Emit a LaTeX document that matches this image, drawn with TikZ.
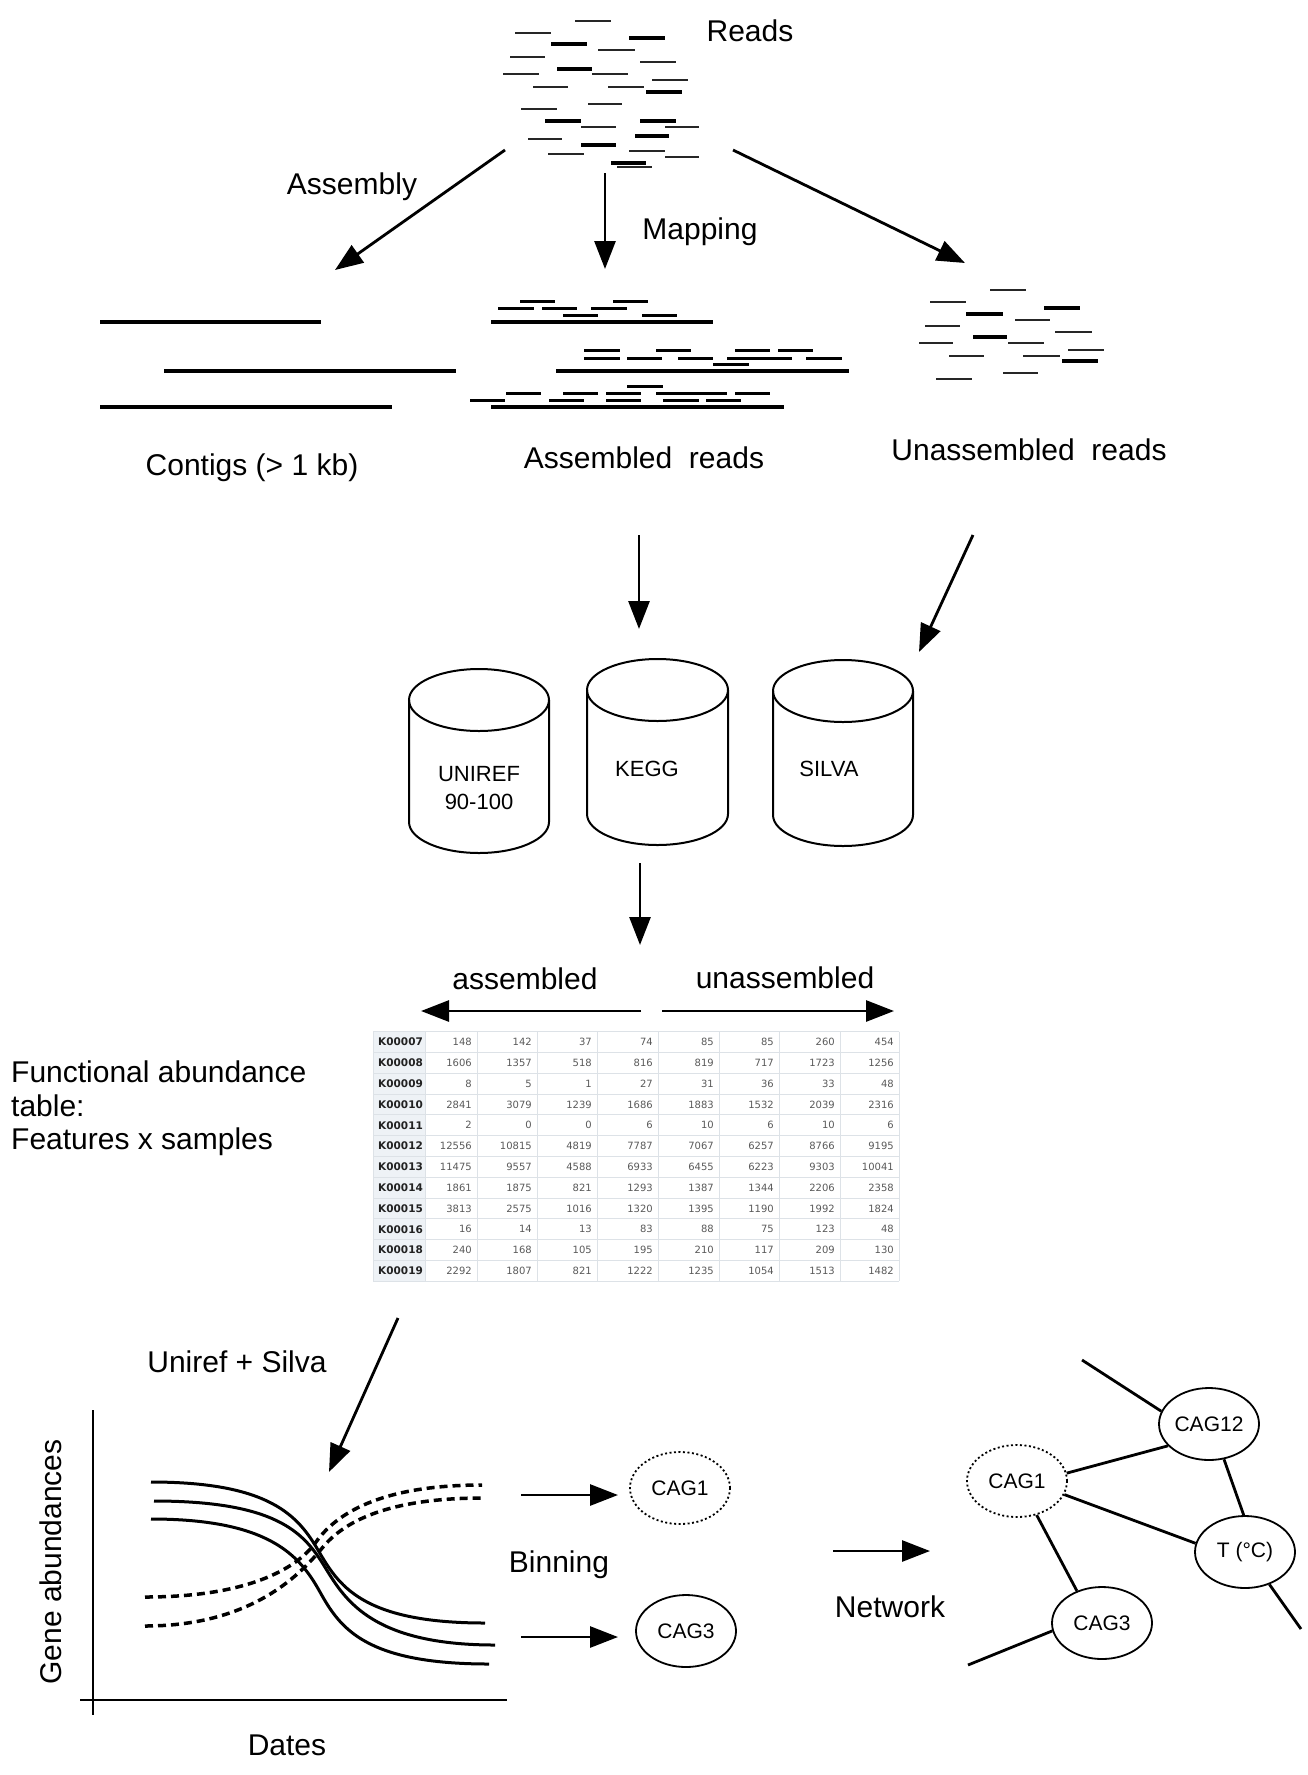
\documentclass[tikz,border=0pt]{standalone}
\usepackage{fontspec}
\setmainfont{Liberation Sans}
\newfontfamily\tabfont{DejaVu Sans}
\usetikzlibrary{arrows.meta,shapes.geometric}
\definecolor{lblbg}{HTML}{EEF2F6}
\definecolor{gridc}{HTML}{DDE2E7}
\definecolor{numc}{HTML}{5A5A5A}
\definecolor{labc}{HTML}{222222}
\definecolor{rdc}{HTML}{262626}
\tikzset{
 lbl/.style={font=\fontsize{30}{34}\selectfont, inner sep=0pt, anchor=base},
 lblw/.style={font=\fontsize{30}{34}\selectfont, inner sep=0pt, anchor=base west},
 cyltext/.style={font=\fontsize{22}{26}\selectfont, inner sep=0pt, anchor=base},
 arr/.style={-{Triangle[length=28pt,width=21pt]}, line width=2.8pt},
 rd/.style={line width=2.6pt, draw=rdc},
 rdk/.style={line width=3.8pt, draw=black},
 rdu/.style={line width=2.2pt, draw=rdc},
 asr/.style={line width=3pt, draw=black},
 longl/.style={line width=3.3pt, draw=black},
 cylline/.style={line width=2pt},
 cag/.style={ellipse, draw, line width=1.8pt, minimum width=100pt, minimum height=72pt, inner sep=0pt, font=\fontsize{21}{24}\selectfont},
 cagd/.style={cag, dash pattern=on 2pt off 2.5pt},
 netline/.style={line width=2.8pt},
 sigline/.style={line width=3pt},
 dsigline/.style={line width=3.5pt, dash pattern=on 8pt off 5pt},
 gridline/.style={draw=gridc, line width=0.8pt},
 tnum/.style={font=\tabfont\fontsize{10}{12}\selectfont, text=numc, inner sep=0pt, anchor=east},
 tlab/.style={font=\tabfont\bfseries\fontsize{10.5}{12}\selectfont, text=labc, inner sep=0pt, anchor=west},
}
\newcommand\mycyl[5]{%
 \draw[cylline] (#1-#4,#2) -- (#1-#4,#3) arc[start angle=180,end angle=360,x radius=#4pt,y radius=#5pt] -- (#1+#4,#2);
 \draw[cylline] (#1,#2) ellipse[x radius=#4pt,y radius=#5pt];}
\begin{document}
\begin{tikzpicture}[x=1pt,y=-1pt]
\fill[white] (0,0) rectangle (1307,1775);
\useasboundingbox (0,0) rectangle (1307,1775);

% ---------- Reads cloud ----------
\foreach \a/\b/\y in {575/611/21,515/551/33,598/635/50,510/545/57,640/676/62,503/539/74,592/628/74,652/688/80,533/568/87,608/644/87,588/622/104,521/557/109,581/616/127,665/699/127,528/562/139,548/584/154,629/665/151,665/699/157,617/652/167}
 \draw[rd] (\a,\y) -- (\b,\y);
\foreach \a/\b/\y in {551/587/44,629/665/38,557/592/69,646/682/92,545/581/121,640/676/121,635/669/136,581/616/145,611/646/163}
 \draw[rdk] (\a,\y) -- (\b,\y);
\node[lbl] (reads) at (750,41) {Reads};

% ---------- top arrows ----------
\coordinate (asmS) at (505,150); \coordinate (asmE) at (335,270);
\coordinate (mapS) at (605,173); \coordinate (mapE) at (605,269);
\coordinate (unS) at (733,150);  \coordinate (unE) at (965,263);
\draw[arr] (asmS) -- (asmE);
\draw[arr] (mapS) -- (mapE);
\draw[arr] (unS) -- (unE);
\node[lbl] (assembly) at (352,194) {Assembly};
\node[lbl] (mapping) at (700,239) {Mapping};

% ---------- contigs ----------
\draw[longl] (100,322) -- (321,322);
\draw[longl] (164,371) -- (456,371);
\draw[longl] (100,407) -- (392,407);
\node[lbl] (contigs) at (252,475) {Contigs (> 1 kb)};

% ---------- assembled reads ----------
\foreach \a/\b/\y in {520/555/301,613/648/301,498/534/308,542/577/308,591/627/308,563/598/315,642/677/315,
 584/620/350,656/691/350,735/770/350,778/813/350,584/620/358,627/662/358,678/713/358,727/763/358,756/792/358,806/842/358,713/749/364,
 627/663/386,506/541/393,563/598/393,606/641/393,656/691/393,691/727/393,735/770/393,470/505/400,549/584/400,606/641/400,663/699/400,706/741/400}
 \draw[asr] (\a,\y) -- (\b,\y);
\draw[longl] (491,322) -- (713,322);
\draw[longl] (556,371) -- (849,371);
\draw[longl] (491,407) -- (784,407);
\node[lbl] (asmreads) at (644,468) {Assembled\ \ reads};

% ---------- unassembled reads ----------
\foreach \a/\b/\y in {990/1026/290,930/966/302,1015/1050/320,925/960/326,1055/1092/332,919/953/343,1008/1044/343,1068/1104/350,949/984/356,1023/1060/356,1003/1038/373,936/972/379}
 \draw[rdu] (\a,\y) -- (\b,\y);
\foreach \a/\b/\y in {966/1003/314,1044/1080/308,973/1007/337,1062/1098/361}
 \draw[rdk] (\a,\y) -- (\b,\y);
\node[lbl] (unasmreads) at (1029,460) {Unassembled\ \ reads};

% ---------- arrows to databases ----------
\coordinate (kgS) at (639,535); \coordinate (kgE) at (639,629);
\coordinate (svS) at (973,535); \coordinate (svE) at (919,652);
\draw[arr] (kgS) -- (kgE);
\draw[arr] (svS) -- (svE);

% ---------- databases ----------
\mycyl{479}{700}{822}{70}{31}
\mycyl{657.5}{690}{814}{70.5}{31}
\mycyl{843}{691}{815}{70}{31}
\node[cyltext] (uniref) at (479,781) {UNIREF};
\node[cyltext] (uniref2) at (479,809) {90-100};
\node[cyltext] (kegg) at (647,776) {KEGG};
\node[cyltext] (silva) at (829,776) {SILVA};

\coordinate (tbS) at (640,863); \coordinate (tbE) at (640,945);
\draw[arr] (tbS) -- (tbE);

% ---------- table ----------
\coordinate (asL0) at (641,1011); \coordinate (asL1) at (421,1011);
\coordinate (unR0) at (662,1011); \coordinate (unR1) at (894,1011);
\draw[arr] (asL0) -- (asL1);
\draw[arr] (unR0) -- (unR1);
\node[lbl] (assembled) at (525,989) {assembled};
\node[lbl] (unassembled) at (785,988) {unassembled};

\fill[lblbg] (373,1031.6) rectangle (425,1281.2);
\foreach \yy in {0,...,12} \draw[gridline] (373,{1031.6+20.8*\yy}) -- (899,{1031.6+20.8*\yy});
\foreach \xx in {373,425,477,537,597,658,719,779,840,899} \draw[gridline] (\xx,1031.6) -- (\xx,1281.2);
\foreach \r/\k/\va/\vb/\vc/\vd/\ve/\vf/\vg/\vh in {
1/K00007/148/142/37/74/85/85/260/454,
2/K00008/1606/1357/518/816/819/717/1723/1256,
3/K00009/8/5/1/27/31/36/33/48,
4/K00010/2841/3079/1239/1686/1883/1532/2039/2316,
5/K00011/2/0/0/6/10/6/10/6,
6/K00012/12556/10815/4819/7787/7067/6257/8766/9195,
7/K00013/11475/9557/4588/6933/6455/6223/9303/10041,
8/K00014/1861/1875/821/1293/1387/1344/2206/2358,
9/K00015/3813/2575/1016/1320/1395/1190/1992/1824,
10/K00016/16/14/13/83/88/75/123/48,
11/K00018/240/168/105/195/210/117/209/130,
12/K00019/2292/1807/821/1222/1235/1054/1513/1482}{
 \pgfmathsetmacro\yc{1031.6+20.8*(\r-0.5)}
 \node[tlab] (k\r) at (378,\yc) {\k};
 \node[tnum] (n\r-a) at (472,\yc) {\va};
 \node[tnum] (n\r-b) at (532,\yc) {\vb};
 \node[tnum] (n\r-c) at (592,\yc) {\vc};
 \node[tnum] (n\r-d) at (653,\yc) {\vd};
 \node[tnum] (n\r-e) at (714,\yc) {\ve};
 \node[tnum] (n\r-f) at (774,\yc) {\vf};
 \node[tnum] (n\r-g) at (835,\yc) {\vg};
 \node[tnum] (n\r-h) at (894,\yc) {\vh};
}
\node[lblw] (func1) at (11,1082) {Functional abundance};
\node[lblw] (func2) at (11,1116) {table:};
\node[lblw] (func3) at (11,1149) {Features x samples};

% ---------- plot ----------
\coordinate (urS) at (398,1318); \coordinate (urE) at (329,1472);
\draw[arr] (urS) -- (urE);
\node[lbl] (unisil) at (237,1372) {Uniref + Silva};
\coordinate (yaxT) at (93,1410); \coordinate (yaxB) at (93,1715);
\coordinate (xaxL) at (80,1700); \coordinate (xaxR) at (507,1700);
\draw[line width=2.6pt] (yaxT) -- (yaxB);
\draw[line width=2.6pt] (xaxL) -- (xaxR);
\node[lbl, rotate=90] (geneab) at (61,1562) {Gene abundances};
\node[lbl] (dates) at (287,1755) {Dates};
\draw[sigline] (151,1482) .. controls (270,1482) and (298,1516) .. (318,1550) .. controls (338,1584) and (360,1623) .. (485,1623);
\draw[sigline] (154,1501) .. controls (275,1501) and (303,1532) .. (323,1564) .. controls (343,1596) and (367,1645) .. (495,1645);
\draw[sigline] (151,1519) .. controls (270,1519) and (300,1556) .. (320,1592) .. controls (340,1628) and (365,1664) .. (489,1664);
\draw[dsigline] (145,1597) .. controls (245,1597) and (296,1570) .. (316,1542) .. controls (336,1514) and (380,1485) .. (482,1485);
\draw[dsigline] (145,1626) .. controls (255,1626) and (303,1571) .. (323,1547) .. controls (343,1523) and (385,1498) .. (483,1498);

\node[cagd] (bcag1) at (680,1488) {CAG1};
\node[cag] (bcag3) at (686,1631) {CAG3};
\coordinate (b1S) at (521,1495); \coordinate (b1E) at (618,1495);
\coordinate (b3S) at (521,1637); \coordinate (b3E) at (618,1637);
\draw[arr] (b1S) -- (b1E);
\draw[arr] (b3S) -- (b3E);
\node[lbl] (binning) at (559,1572) {Binning};

% ---------- network ----------
\coordinate (nwS) at (833,1551); \coordinate (nwE) at (930,1551);
\draw[arr] (nwS) -- (nwE);
\node[lbl] (network) at (890,1617) {Network};
\node[cag] (n12) at (1209,1424) {CAG12};
\node[cagd] (n1) at (1017,1481) {CAG1};
\node[cag] (nt) at (1245,1552) {T (°C)};
\node[cag] (n3) at (1102,1623) {CAG3};
\coordinate (fe1) at (1082,1360);
\coordinate (fe2) at (968,1665);
\coordinate (fe3) at (1301,1629);
\draw[netline] (fe1) -- (n12.165);
\draw[netline] (n1.9) -- (n12.208);
\draw[netline] (n1.-16) -- (nt.170);
\draw[netline] (n12.-67) -- (nt.92);
\draw[netline] (n1.-60) -- (n3.128);
\draw[netline] (n3.189) -- (fe2);
\draw[netline] (nt.-53) -- (fe3);
\end{tikzpicture}
\end{document}
